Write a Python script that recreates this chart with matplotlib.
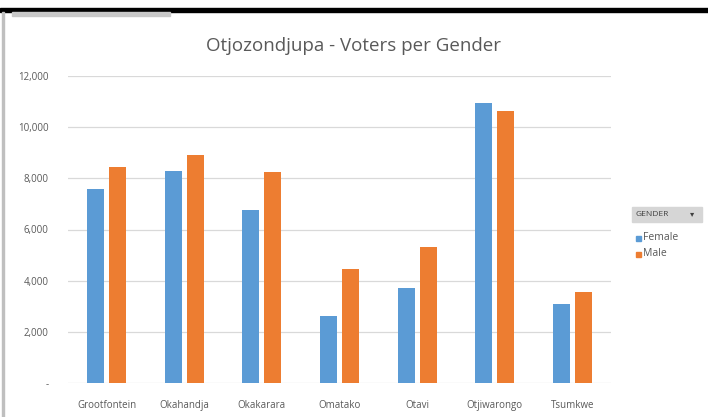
import matplotlib
matplotlib.use("Agg")
import matplotlib.pyplot as plt
import numpy as np
from matplotlib.patches import Rectangle
from matplotlib.ticker import FuncFormatter

CATEGORIES = ["Grootfontein", "Okahandja", "Okakarara", "Omatako",
              "Otavi", "Otjiwarongo", "Tsumkwe"]
FEMALE = [7600, 8300, 6750, 2600, 3700, 10950, 3100]
MALE = [8450, 8900, 8250, 4450, 5300, 10650, 3550]

BLUE = "#5b9bd5"
ORANGE = "#ed7d31"
GRAY_TXT = "#595959"

plt.rcParams["font.family"] = ["Open Sans", "DejaVu Sans"]

fig = plt.figure(figsize=(7.08, 4.17), dpi=100)
ax = fig.add_axes([68 / 708, 34 / 417, 543 / 708, 307 / 417])

x = np.arange(len(CATEGORIES))
w = 0.22
ax.bar(x - 0.142, FEMALE, width=w, color=BLUE, zorder=3, label="Female")
ax.bar(x + 0.142, MALE, width=w, color=ORANGE, zorder=3, label="Male")

ax.set_xlim(-0.5, len(CATEGORIES) - 0.5)
ax.set_ylim(0, 12000)
ax.set_yticks(range(0, 12001, 2000))
ax.yaxis.set_major_formatter(
    FuncFormatter(lambda v, _: "-" if v == 0 else f"{int(v):,}"))
ax.grid(axis="y", color="#d9d9d9", lw=0.9, zorder=0)
ax.set_xticks(x)
ax.set_xticklabels(CATEGORIES)
ax.tick_params(length=0, labelsize=7, colors=GRAY_TXT, pad=12)
ax.tick_params(axis="y", pad=14)
for s in ax.spines.values():
    s.set_visible(False)

fig.text(0.5, 1 - 46 / 417, "Otjozondjupa - Voters per Gender",
         ha="center", va="center", fontsize=13.5, color=GRAY_TXT)

# screenshot decorations: black top bar, left border, button
fig.add_artist(Rectangle((0, 1 - 12 / 417), 1, 4 / 417, transform=fig.transFigure,
                         color="black", zorder=10))
fig.add_artist(Rectangle((2 / 708, 0), 1.5 / 708, 1 - 12 / 417,
                         transform=fig.transFigure, color="#bfbfbf", zorder=10))
fig.add_artist(Rectangle((12 / 708, 1 - 16 / 417), 158 / 708, 4 / 417,
                         transform=fig.transFigure, color="#c8c8c8", zorder=10))

# legend as pivot-style field button
fig.add_artist(Rectangle((632 / 708, 1 - 222 / 417), 70 / 708, 15 / 417,
                         transform=fig.transFigure, color="#d6d6d6", zorder=10))
fig.text(636 / 708, 1 - 214.5 / 417, "GENDER", fontsize=6, color="#404040",
         va="center", zorder=11)
fig.text(690 / 708, 1 - 214.5 / 417, "\u25be", fontsize=6, color="#404040",
         va="center", zorder=11)
for i, (lab, col) in enumerate([("Female", BLUE), ("Male", ORANGE)]):
    yy = 1 - (238 + 16 * i) / 417
    fig.add_artist(Rectangle((636 / 708, yy - 2.5 / 417), 5 / 708, 5 / 417,
                             transform=fig.transFigure, color=col, zorder=10))
    fig.text(643 / 708, yy, lab, fontsize=7.5, color=GRAY_TXT, va="center")

fig.savefig("out.png", dpi=100)
